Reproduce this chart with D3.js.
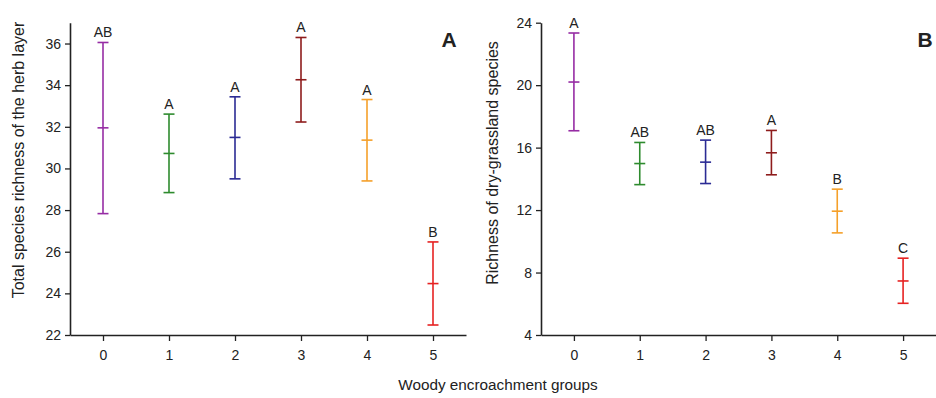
<!DOCTYPE html>
<html><head><meta charset="utf-8">
<script src="https://cdn.jsdelivr.net/npm/d3@7"></script>
<style>body{margin:0;background:#fff}svg{display:block}text{font-family:Arial,"Liberation Sans",sans-serif;fill:#222}</style>
</head><body><svg id="c" width="936" height="398"></svg>
<script>
const groups = [0, 1, 2, 3, 4, 5];
const colors = ["#962ca4", "#2e8b2e", "#2b2b94", "#8e1c1c", "#f5a02a", "#e62222"];
// Panel A: total species richness
const totalMean = [31.95, 30.72, 31.49, 34.26, 31.36, 24.47];
const totalLow  = [27.83, 28.84, 29.50, 32.23, 29.40, 22.48];
const totalHigh = [36.05, 32.61, 33.44, 36.29, 33.31, 26.47];
const totalLetters = ["AB", "A", "A", "A", "A", "B"];
const totalTicks = [22, 24, 26, 28, 30, 32, 34, 36];
// Panel B: dry-grassland species richness
const dryMean = [20.20, 14.98, 15.07, 15.67, 11.93, 7.46];
const dryLow  = [17.08, 13.63, 13.70, 14.26, 10.54, 6.03];
const dryHigh = [23.34, 16.33, 16.48, 17.10, 13.34, 8.92];
const dryLetters = ["A", "AB", "AB", "A", "B", "C"];
const dryTicks = [4, 8, 12, 16, 20, 24];

const svg = d3.select("#c");

function panel(opt) {
  const x = d3.scaleLinear().domain([-0.5, 5.5]).range([opt.x0, opt.x1]);
  const y = d3.scaleLinear().domain(opt.domain).range([335, opt.yTop]);
  const g = svg.append("g");
  const xa = g.append("g").attr("transform", "translate(0,335)")
    .call(d3.axisBottom(x).tickValues(groups).tickFormat(d3.format("d")).tickSize(6).tickSizeOuter(0));
  const ya = g.append("g").attr("transform", `translate(${opt.x0},0)`)
    .call(d3.axisLeft(y).tickValues(opt.ticks).tickSize(5).tickSizeOuter(0));
  [xa, ya].forEach(a => {
    a.select(".domain").attr("stroke", "#222").attr("stroke-width", 1.6);
    a.selectAll(".tick line").attr("stroke", "#222").attr("stroke-width", 1.3);
    a.selectAll(".tick text").style("font-size", "14px").attr("fill", "#222");
  });
  xa.selectAll(".tick text").attr("dy", "1.15em");
  ya.selectAll(".tick text").attr("dx", "-1px");
  const hw = 5.5;
  groups.forEach((d, i) => {
    const cx = x(d), c = colors[i];
    const e = g.append("g").attr("stroke", c).attr("stroke-width", 1.6).attr("fill", "none");
    e.append("line").attr("x1", cx).attr("x2", cx).attr("y1", y(opt.high[i])).attr("y2", y(opt.low[i]));
    [opt.high[i], opt.mean[i], opt.low[i]].forEach(v =>
      e.append("line").attr("x1", cx - hw).attr("x2", cx + hw).attr("y1", y(v)).attr("y2", y(v)));
    g.append("text").attr("x", cx).attr("y", y(opt.high[i]) - 5).attr("text-anchor", "middle")
      .style("font-size", "14px").text(opt.letters[i]);
  });
  g.append("text").attr("transform", `translate(${opt.labelX},${opt.labelY}) rotate(-90)`)
    .attr("text-anchor", "middle").style("font-size", "16px").text(opt.ylabel);
  g.append("text").attr("x", opt.tagX).attr("y", 47).attr("text-anchor", "middle")
    .style("font-size", "21px").style("font-weight", "bold").attr("fill", "#000").text(opt.tag);
}

panel({x0: 70, x1: 466, domain: [22, 37], yTop: 22.7, ticks: totalTicks,
  mean: totalMean, low: totalLow, high: totalHigh, letters: totalLetters,
  ylabel: "Total species richness of the herb layer", labelX: 24, labelY: 160, tag: "A", tagX: 449});
panel({x0: 541, x1: 936, domain: [4, 24], yTop: 22.7, ticks: dryTicks,
  mean: dryMean, low: dryLow, high: dryHigh, letters: dryLetters,
  ylabel: "Richness of dry-grassland species", labelX: 498, labelY: 163, tag: "B", tagX: 925});

svg.append("text").attr("x", 498).attr("y", 390).attr("text-anchor", "middle")
  .style("font-size", "15.3px").text("Woody encroachment groups");
</script></body></html>
